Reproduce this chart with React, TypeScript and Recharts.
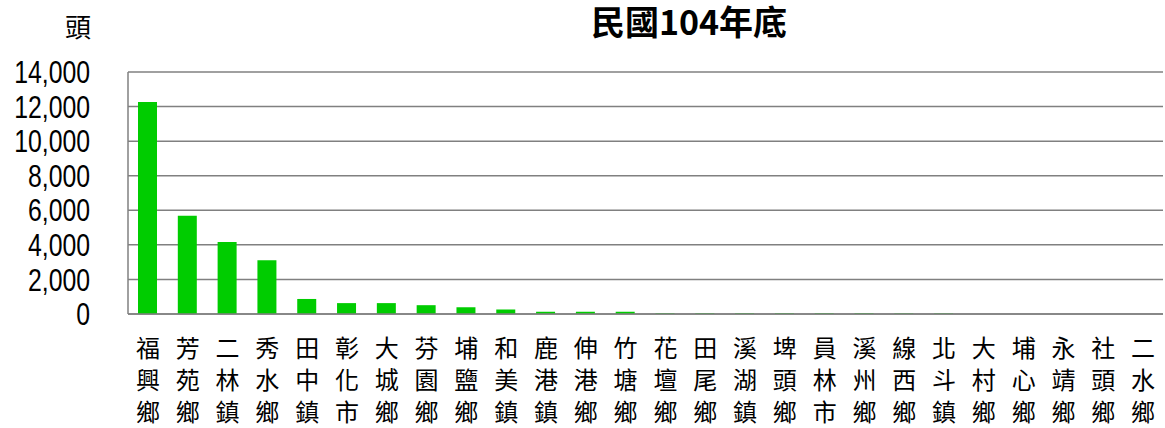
import { BarChart, Bar, XAxis, YAxis, CartesianGrid } from 'recharts';

const towns = [
  '福興鄉', '芳苑鄉', '二林鎮', '秀水鄉', '田中鎮', '彰化市', '大城鄉', '芬園鄉', '埔鹽鄉',
  '和美鎮', '鹿港鎮', '伸港鄉', '竹塘鄉', '花壇鄉', '田尾鄉', '溪湖鎮', '埤頭鄉', '員林市',
  '溪州鄉', '線西鄉', '北斗鎮', '大村鄉', '埔心鄉', '永靖鄉', '社頭鄉', '二水鄉',
];

const heads = [
  12260, 5690, 4160, 3110, 870, 630, 630, 510, 390,
  260, 130, 130, 130, 40, 40, 40, 40, 40,
  40, 30, 30, 0, 0, 0, 0, 0,
];

const yTicks = [0, 2000, 4000, 6000, 8000, 10000, 12000, 14000];

const title = '民國104年底';
const unit = '頭';

const data = towns.map((name, i) => ({ name, value: heads[i] }));

const cjk = '"Noto Sans CJK TC", "Noto Sans CJK SC", sans-serif';

function TownTick(props: any) {
  const { x, y, payload } = props;
  const chars = String(payload.value).split('');
  return (
    <text x={x} y={y} textAnchor="middle" fontSize={24} fontFamily={cjk} fill="#000">
      {chars.map((c, i) => (
        <tspan key={i} x={x} y={y + 41 + i * 32}>{c}</tspan>
      ))}
    </text>
  );
}

// narrow-looking numbers: no condensed font installed, so squeeze horizontally
function ValueTick(props: any) {
  const { x, y, payload } = props;
  const label = Number(payload.value).toLocaleString('en-US');
  return (
    <text
      transform={`translate(${x},${y}) scale(0.8,1)`}
      x={0}
      y={0}
      dy="0.36em"
      textAnchor="end"
      fontSize={31}
      fontFamily='"Liberation Sans", Arial, sans-serif'
      fill="#000"
    >
      {label}
    </text>
  );
}

export default function App() {
  return (
    <div style={{ position: 'absolute', left: 0, top: 0, width: 1165, height: 428, background: '#fff' }}>
      <BarChart
        width={1165}
        height={428}
        data={data}
        margin={{ top: 72, right: 2, left: 0, bottom: 0 }}
        barSize={19}
      >
        <CartesianGrid vertical={false} stroke="#808080" strokeWidth={1.5} />
        <XAxis
          dataKey="name"
          height={114}
          interval={0}
          tickSize={0}
          tickLine={false}
          axisLine={{ stroke: '#808080', strokeWidth: 1.5 }}
          tick={<TownTick />}
        />
        <YAxis
          width={128}
          domain={[0, 14000]}
          ticks={yTicks}
          interval={0}
          tickSize={0}
          tickMargin={38}
          tickLine={false}
          axisLine={{ stroke: '#808080', strokeWidth: 1.5 }}
          tick={<ValueTick />}
        />
        <Bar dataKey="value" fill="#00cc00" isAnimationActive={false} />
      </BarChart>
      <div
        style={{
          position: 'absolute', left: 30, top: 11, width: 61, textAlign: 'right',
          fontFamily: cjk, fontSize: 26, lineHeight: '30px', color: '#000',
        }}
      >
        {unit}
      </div>
      <div
        style={{
          position: 'absolute', left: 489, top: 0, width: 400, textAlign: 'center',
          fontFamily: cjk, fontSize: 34, fontWeight: 700, lineHeight: '42px', color: '#000',
        }}
      >
        {title}
      </div>
    </div>
  );
}
